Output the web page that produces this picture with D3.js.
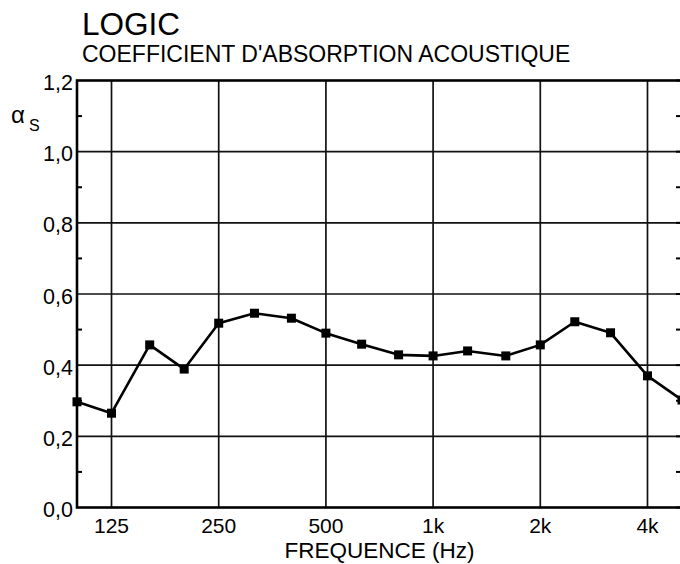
<!DOCTYPE html>
<html>
<head>
<meta charset="utf-8">
<script src="https://cdn.jsdelivr.net/npm/d3@7"></script>
<style>
  html, body { margin: 0; padding: 0; background: #fff; }
  svg { display: block; font-family: "Liberation Sans", Arial, sans-serif; }
</style>
</head>
<body>
<svg id="chart" width="680" height="564"></svg>
<script>
// ---- data ----
const frequencies = [100, 125, 160, 200, 250, 315, 400, 500, 630, 800, 1000, 1250, 1600, 2000, 2500, 3150, 4000, 5000];
const alphaS = [0.297, 0.265, 0.457, 0.389, 0.518, 0.546, 0.532, 0.49, 0.459, 0.429, 0.426, 0.44, 0.426, 0.457, 0.522, 0.491, 0.37, 0.302];
const xTickValues = [125, 250, 500, 1000, 2000, 4000];
const xTickLabels = ["125", "250", "500", "1k", "2k", "4k"];
const yTickValues = [0, 0.2, 0.4, 0.6, 0.8, 1.0, 1.2];
const yTickLabels = ["0,0", "0,2", "0,4", "0,6", "0,8", "1,0", "1,2"];
const yMinorTicks = [0.1, 0.3, 0.5, 0.7, 0.9, 1.1];

// ---- layout ----
const pLeft = 77, pRight = 682, pTop = 80.5, pBottom = 507.5;
const svg = d3.select("#chart");

const x = d3.scaleLog().domain([100, 5000]).range([pLeft, pRight]);
const y = d3.scaleLinear().domain([0, 1.2]).range([pBottom, pTop]);

// title
svg.append("text").attr("x", 82).attr("y", 35)
  .attr("font-size", 31.5).attr("fill", "#000").text("LOGIC");
svg.append("text").attr("x", 82).attr("y", 61.5)
  .attr("font-size", 23).attr("fill", "#000").text("COEFFICIENT D'ABSORPTION ACOUSTIQUE");

// horizontal grid
svg.append("g").selectAll("line").data(yTickValues.slice(1, -1)).join("line")
  .attr("x1", pLeft).attr("x2", pRight)
  .attr("y1", d => y(d)).attr("y2", d => y(d))
  .attr("stroke", "#111").attr("stroke-width", 1.7);

// vertical grid
svg.append("g").selectAll("line").data(xTickValues).join("line")
  .attr("x1", d => x(d)).attr("x2", d => x(d))
  .attr("y1", pTop).attr("y2", pBottom)
  .attr("stroke", "#111").attr("stroke-width", 1.7);

// minor ticks (left and right, inward)
svg.append("g").selectAll("line").data(yMinorTicks).join("line")
  .attr("x1", pLeft).attr("x2", pLeft + 5)
  .attr("y1", d => y(d)).attr("y2", d => y(d))
  .attr("stroke", "#000").attr("stroke-width", 2);
svg.append("g").selectAll("line").data(yMinorTicks.concat(yTickValues)).join("line")
  .attr("x1", pRight - 6).attr("x2", pRight)
  .attr("y1", d => y(d)).attr("y2", d => y(d))
  .attr("stroke", "#000").attr("stroke-width", 2);

// frame
svg.append("rect").attr("x", pLeft).attr("y", pTop)
  .attr("width", pRight - pLeft).attr("height", pBottom - pTop)
  .attr("fill", "none").attr("stroke", "#000").attr("stroke-width", 2.6);

// y labels
svg.append("g").selectAll("text").data(yTickValues).join("text")
  .attr("x", 73).attr("y", d => y(d) + 9.5)
  .attr("text-anchor", "end").attr("font-size", 21.5).attr("fill", "#000")
  .text((d, i) => yTickLabels[i]);

// x labels
svg.append("g").selectAll("text").data(xTickValues).join("text")
  .attr("x", d => x(d)).attr("y", 533)
  .attr("text-anchor", "middle").attr("font-size", 21).attr("fill", "#000")
  .text((d, i) => xTickLabels[i]);

// axis titles
svg.append("text").attr("x", (pLeft + pRight) / 2).attr("y", 558)
  .attr("text-anchor", "middle").attr("font-size", 22.5).attr("fill", "#000")
  .text("FREQUENCE (Hz)");
const a = svg.append("text").attr("x", 11).attr("y", 123).attr("fill", "#000");
a.append("tspan").attr("font-size", 24).text("α");
a.append("tspan").attr("font-size", 16).attr("dx", 4).attr("dy", 8).text("S");

// series
const pts = frequencies.map((f, i) => [f, alphaS[i]]);
svg.append("path").datum(pts)
  .attr("d", d3.line().x(d => x(d[0])).y(d => y(d[1])))
  .attr("fill", "none").attr("stroke", "#000").attr("stroke-width", 2.6)
  .attr("stroke-linejoin", "round");
svg.append("g").selectAll("rect").data(pts).join("rect")
  .attr("x", d => x(d[0]) - 4.5).attr("y", d => y(d[1]) - 4.5)
  .attr("width", 9).attr("height", 9).attr("fill", "#000");
</script>
</body>
</html>
